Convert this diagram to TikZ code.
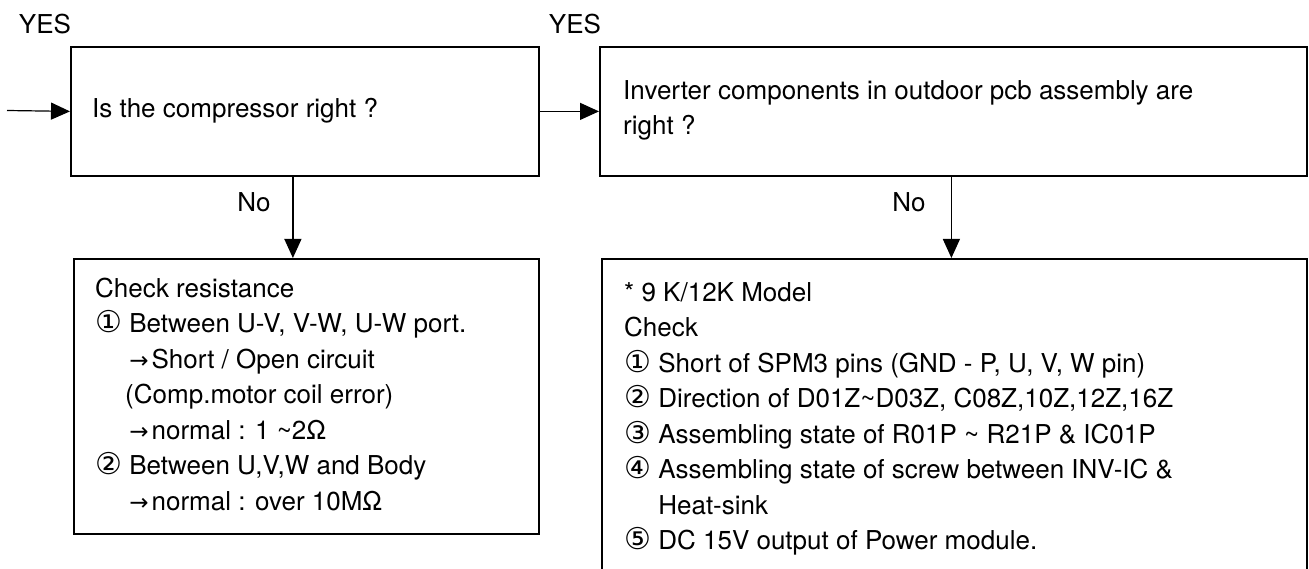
\documentclass[tikz,border=0pt]{standalone}
\usepackage{fontspec}
\setmainfont{TeX Gyre Heros}
\newfontfamily\symf{DejaVu Sans}
\usetikzlibrary{arrows.meta}
\newcommand{\cnum}[1]{{\symf\fontsize{30}{30}\selectfont #1}}
\newcommand{\rarr}{{\symf\fontsize{23}{23}\selectfont →}\hspace{3pt}}
\tikzset{
  box/.style={draw, line width=1.8pt, rectangle, inner sep=0pt, anchor=north west},
  txt/.style={font=\fontsize{26}{35.5}\selectfont, align=left, inner sep=0pt},
  arr/.style={line width=1.2pt, -{Triangle[length=19pt,width=17pt]}},
}
\begin{document}
\begin{tikzpicture}[x=1pt,y=-1pt]
\useasboundingbox (0,0) rectangle (1309,569);
\clip (0,0) rectangle (1309,569);
\fill[white] (0,0) rectangle (1309,569);
% boxes
\node[box, minimum width=468pt, minimum height=129pt] (box1) at (70,46) {};
\node[box, minimum width=707pt, minimum height=129pt] (box2) at (599,46) {};
\node[box, minimum width=465pt, minimum height=275pt] (box3) at (73,258) {};
\node[box, minimum width=705pt, minimum height=342pt] (box4) at (601,258) {};
% texts
\node[txt] (yes1) at (45,24) {YES};
\node[txt] (yes2) at (575,24) {YES};
\node[txt, anchor=west] (t1) at (92,110.5) {Is the compressor right ?};
\node[txt, anchor=west] (t2) at (623,110.5) {Inverter components in outdoor pcb assembly are\\right ?};
\node[txt, anchor=north west] (t3) at (95,277.5) {Check resistance\\
\cnum{①} Between U-V, V-W, U-W port.\\
\phantom{\cnum{①} }\rarr Short / Open circuit\\
\hspace*{30pt}(Comp.motor coil error)\\
\phantom{\cnum{①} }\rarr normal : 1 \textasciitilde2Ω\\
\cnum{②} Between U,V,W and Body\\
\phantom{\cnum{①} }\rarr normal : over 10MΩ};
\node[txt, anchor=north west] (t4) at (624,282) {* 9 K/12K Model\\
Check\\
\cnum{①} Short of SPM3 pins (GND - P, U, V, W pin)\\
\cnum{②} Direction of D01Z\textasciitilde{}D03Z, C08Z,10Z,12Z,16Z\\
\cnum{③} Assembling state of R01P \textasciitilde{} R21P \& IC01P\\
\cnum{④} Assembling state of screw between INV-IC \&\\
\phantom{\cnum{④} }Heat-sink\\
\cnum{⑤} DC 15V output of Power module.};
\node[txt] (no1) at (254,202) {No};
\node[txt] (no2) at (909,202) {No};
% connectors
\coordinate (in) at (7,110.5);
\draw[arr] (in) -- (box1.west);
\draw[arr] (box1.east) -- (box2.west);
\draw[arr] ([xshift=-12pt]box1.south) -- ([xshift=-12pt]box1.south |- box3.north);
\draw[arr] ([xshift=-3pt]box4.north |- box2.south) -- ([xshift=-3pt]box4.north);
\end{tikzpicture}
\end{document}
